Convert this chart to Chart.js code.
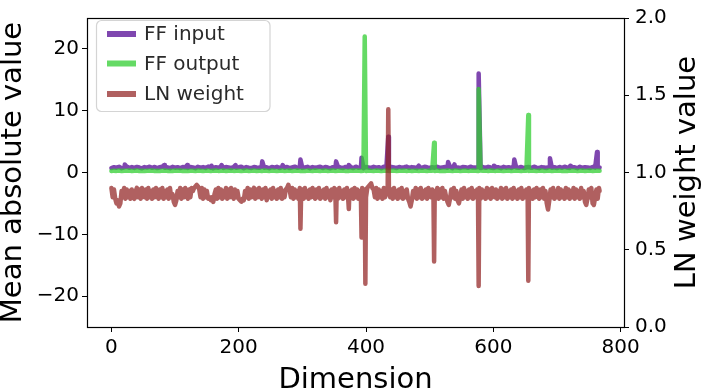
<!DOCTYPE html>
<html>
<head>
<meta charset="utf-8">
<script src="https://cdn.jsdelivr.net/npm/chart.js@4.4.1/dist/chart.umd.min.js"></script>
<style>
  body { margin: 0; background: #fff; }
  canvas { display: block; }
</style>
</head>
<body>
<canvas id="myChart" width="706" height="388"></canvas>
<script>
// x ticks / y ticks
var xTicks = [0, 200, 400, 600, 800];
var leftTicks = [-20, -10, 0, 10, 20];
var rightTicks = [0, 0.5, 1.0, 1.5, 2.0];

// FF baselines are read every 4th dimension, LN every 2nd, both plus the last one (767)
var ffDims = [];
for (var d = 0; d <= 764; d += 4) ffDims.push(d);
ffDims.push(767);
var lnDims = [];
for (var e = 0; e <= 766; e += 2) lnDims.push(e);
lnDims.push(767);

// FF input, mean absolute value
var ffInputBase = [
  0.72,0.86,0.78,0.92,0.70,0.84,0.95,0.76,0.88,0.73,0.90,0.80,0.68,0.87,0.79,0.93,
  0.75,0.89,0.71,0.85,0.94,0.77,0.83,0.69,0.91,0.78,0.86,0.72,0.88,0.81,0.74,0.90,
  0.83,0.70,0.92,0.79,0.87,0.73,0.95,0.80,0.68,0.86,0.77,0.91,0.74,0.88,0.82,0.71,
  0.89,0.76,0.84,0.93,0.70,0.87,0.79,0.72,0.90,0.81,0.75,0.94,0.78,0.85,0.69,0.88,
  0.80,0.92,0.73,0.86,0.77,0.90,0.71,0.84,0.95,0.76,0.88,0.74,0.83,0.91,0.70,0.87,
  0.78,0.85,0.93,0.72,0.89,0.80,0.68,0.86,0.76,0.92,0.81,0.73,0.90,0.79,0.87,0.71,
  0.94,0.77,0.84,0.70,0.88,0.82,0.75,0.91,0.78,0.86,0.69,0.93,0.80,0.74,0.89,0.83,
  0.72,0.90,0.79,0.85,0.95,0.73,0.87,0.81,0.70,0.88,0.76,0.92,0.84,0.71,0.86,0.78,
  0.91,0.74,0.83,0.89,0.77,0.93,0.70,0.85,0.80,0.72,0.90,0.86,0.75,0.94,0.79,0.82,
  0.88,0.71,0.87,0.76,0.92,0.81,0.73,0.89,0.84,0.69,0.91,0.78,0.86,0.74,0.95,0.80,
  0.77,0.90,0.72,0.85,0.88,0.75,0.93,0.79,0.70,0.87,0.82,0.74,0.91,0.78,0.86,0.71,
  0.89,0.76,0.94,0.80,0.73,0.88,0.84,0.70,0.92,0.77,0.85,0.81,0.72,0.90,0.79,0.87,
  0.83
];
var ffInputSpikeDims = [21, 83, 119, 157, 173, 195, 237, 269, 297, 353, 373, 393, 435, 483, 529, 539, 577, 601, 633, 689, 721, 763];
var ffInputSpikeVals = [1.3, 1.2, 1.2, 1.1, 1.2, 1.2, 1.8, 1.2, 2.1, 1.8, 1.2, 2.4, 5.8, 1.1, 1.7, 1.3, 16.0, 1.1, 2.1, 2.3, 1.1, 3.3];

// FF output, mean absolute value
var ffOutputBase = [
  0.24,0.30,0.26,0.32,0.23,0.29,0.27,0.31,0.25,0.28,0.33,0.24,0.29,0.26,0.30,0.27,
  0.31,0.25,0.28,0.23,0.30,0.32,0.26,0.29,0.24,0.31,0.27,0.33,0.25,0.28,0.26,0.30,
  0.28,0.24,0.32,0.29,0.25,0.27,0.31,0.23,0.30,0.33,0.26,0.28,0.31,0.24,0.29,0.32,
  0.26,0.30,0.28,0.24,0.29,0.32,0.23,0.27,0.31,0.25,0.30,0.24,0.33,0.28,0.26,0.31,
  0.29,0.24,0.27,0.32,0.25,0.30,0.31,0.24,0.28,0.33,0.26,0.29,0.23,0.31,0.27,0.25,
  0.32,0.28,0.24,0.30,0.31,0.26,0.27,0.33,0.24,0.29,0.28,0.31,0.25,0.23,0.30,0.32,
  0.27,0.31,0.26,0.29,0.24,0.32,0.28,0.25,0.31,0.29,0.24,0.27,0.33,0.26,0.30,0.31,
  0.24,0.29,0.28,0.32,0.25,0.31,0.23,0.27,0.30,0.26,0.32,0.28,0.24,0.31,0.29,0.25,
  0.31,0.26,0.29,0.24,0.33,0.27,0.25,0.31,0.30,0.24,0.28,0.32,0.26,0.29,0.31,0.27,
  0.25,0.32,0.28,0.30,0.24,0.31,0.27,0.26,0.33,0.29,0.24,0.28,0.31,0.25,0.30,0.32,
  0.27,0.24,0.31,0.29,0.26,0.32,0.28,0.23,0.30,0.31,0.25,0.27,0.33,0.24,0.29,0.28,
  0.31,0.26,0.29,0.24,0.32,0.27,0.31,0.25,0.30,0.33,0.24,0.28,0.31,0.26,0.29,0.27,
  0.28
];
var ffOutputSpikeDims = [398, 507, 577, 655];
var ffOutputSpikeVals = [22.0, 4.8, 13.5, 9.3];

// LN weight value (right axis), every 2nd dimension
var lnWeightBase = [
  0.90,0.84,0.89,0.83,0.80,0.82,0.78,0.80,0.88,0.84,0.90,0.83,0.89,0.84,0.88,0.83,
  0.89,0.84,0.83,0.88,0.90,0.84,0.89,0.83,0.90,0.86,0.84,0.89,0.83,0.90,0.84,0.88,
  0.83,0.89,0.84,0.90,0.86,0.83,0.89,0.84,0.90,0.83,0.88,0.84,0.89,0.83,0.90,0.84,
  0.86,0.81,0.79,0.82,0.88,0.84,0.90,0.83,0.89,0.84,0.90,0.86,0.83,0.89,0.84,0.90,
  0.88,0.90,0.91,0.92,0.91,0.89,0.84,0.90,0.83,0.89,0.84,0.88,0.83,0.84,0.82,0.84,
  0.81,0.86,0.89,0.83,0.90,0.84,0.89,0.83,0.88,0.84,0.90,0.83,0.89,0.84,0.90,0.86,
  0.83,0.89,0.84,0.88,0.83,0.82,0.81,0.83,0.82,0.88,0.84,0.90,0.83,0.89,0.84,0.88,
  0.90,0.83,0.89,0.84,0.90,0.86,0.83,0.89,0.84,0.90,0.82,0.88,0.84,0.89,0.83,0.90,
  0.84,0.88,0.83,0.89,0.84,0.90,0.83,0.88,0.84,0.89,0.90,0.92,0.89,0.84,0.90,0.83,
  0.89,0.84,0.88,0.83,0.90,0.84,0.89,0.83,0.90,0.84,0.88,0.83,0.89,0.84,0.90,0.86,
  0.83,0.89,0.84,0.90,0.83,0.88,0.84,0.89,0.83,0.90,0.84,0.88,0.82,0.89,0.84,0.90,
  0.84,0.89,0.83,0.90,0.84,0.88,0.83,0.89,0.84,0.90,0.83,0.88,0.84,0.89,0.83,0.90,
  0.84,0.89,0.83,0.88,0.84,0.90,0.83,0.89,0.84,0.90,0.91,0.92,0.93,0.90,0.89,0.84,
  0.90,0.83,0.89,0.84,0.88,0.83,0.90,0.84,0.89,0.86,0.90,0.84,0.89,0.83,0.90,0.84,
  0.88,0.83,0.89,0.84,0.90,0.83,0.88,0.84,0.89,0.83,0.81,0.78,0.82,0.88,0.84,0.90,
  0.83,0.89,0.84,0.90,0.83,0.88,0.84,0.89,0.83,0.90,0.86,0.84,0.89,0.83,0.88,0.84,
  0.90,0.83,0.89,0.84,0.90,0.83,0.88,0.84,0.81,0.79,0.83,0.89,0.84,0.90,0.83,0.88,
  0.82,0.80,0.84,0.89,0.83,0.90,0.84,0.88,0.83,0.89,0.84,0.90,0.83,0.88,0.84,0.89,
  0.84,0.90,0.83,0.89,0.84,0.88,0.83,0.90,0.84,0.89,0.83,0.90,0.86,0.84,0.89,0.83,
  0.88,0.84,0.90,0.83,0.89,0.84,0.90,0.83,0.88,0.84,0.89,0.83,0.90,0.84,0.88,0.83,
  0.89,0.84,0.90,0.83,0.88,0.84,0.89,0.83,0.90,0.84,0.88,0.83,0.89,0.84,0.90,0.86,
  0.83,0.89,0.84,0.90,0.83,0.88,0.80,0.76,0.82,0.89,0.84,0.90,0.83,0.88,0.84,0.90,
  0.83,0.89,0.84,0.88,0.83,0.90,0.84,0.89,0.83,0.88,0.84,0.90,0.83,0.89,0.84,0.88,
  0.83,0.90,0.84,0.88,0.81,0.79,0.83,0.89,0.84,0.90,0.80,0.79,0.84,0.89,0.83,0.90,
  0.88
];
var lnWeightSpikeDims = [297, 353, 373, 393, 399, 435, 507, 577, 655];
var lnWeightSpikeVals = [0.636, 0.678, 0.763, 0.58, 0.28, 1.41, 0.424, 0.265, 0.30];

var purple = 'rgba(95, 25, 155, 0.8)';
var green = 'rgba(50, 205, 50, 0.75)';
var brown = 'rgba(145, 35, 35, 0.72)';

function makePoints(dims, base, spikeDims, spikeVals) {
    var pts = [];
    for (var i = 0; i < dims.length; i++) {
        pts.push({x: dims[i], y: base[i]});
    }
    for (var j = 0; j < spikeDims.length; j++) {
        pts.push({x: spikeDims[j], y: spikeVals[j]});
    }
    pts.sort(function(a, b) { return a.x - b.x; });
    return pts;
}

function fixTicks(list) {
    return function(scale) {
        scale.ticks = list.map(function(v) { return {value: v}; });
    };
}

var FONT = 'DejaVu Sans';

var decor = {
    id: 'decor',
    afterDraw: function(chart) {
        var ctx = chart.ctx;
        var a = chart.chartArea;
        ctx.save();
        // frame
        ctx.strokeStyle = '#000';
        ctx.lineWidth = 1.2;
        ctx.strokeRect(a.left + 0.5, a.top + 0.5, a.right - a.left, a.bottom - a.top);

        // axis titles
        ctx.fillStyle = '#000';
        ctx.font = '29px "' + FONT + '"';
        ctx.textAlign = 'center';
        ctx.textBaseline = 'middle';
        var cy = (a.top + a.bottom) / 2;
        ctx.save();
        ctx.translate(13, cy);
        ctx.rotate(-Math.PI / 2);
        ctx.fillText('Mean absolute value', 0, 0);
        ctx.restore();
        ctx.save();
        ctx.translate(687, cy);
        ctx.rotate(-Math.PI / 2);
        ctx.fillText('LN weight value', 0, 0);
        ctx.restore();
        ctx.fillText('Dimension', (a.left + a.right) / 2, 380.5);

        // legend
        ctx.beginPath();
        ctx.roundRect(96.5, 20.5, 173.5, 91, 5);
        ctx.fillStyle = 'rgba(255,255,255,0.8)';
        ctx.fill();
        ctx.strokeStyle = '#d4d4d4';
        ctx.lineWidth = 1.2;
        ctx.stroke();
        var rows = [34, 63.5, 94];
        ctx.font = '20px "' + FONT + '"';
        ctx.textAlign = 'left';
        chart.data.datasets.forEach(function(ds, i) {
            ctx.beginPath();
            ctx.moveTo(107, rows[i]);
            ctx.lineTo(136, rows[i]);
            ctx.strokeStyle = ds.borderColor;
            ctx.lineWidth = 6;
            ctx.lineCap = 'butt';
            ctx.stroke();
            ctx.fillStyle = '#2a2a2a';
            ctx.fillText(ds.label, 144, rows[i] + 1);
        });
        ctx.restore();
    }
};

var ctx = document.getElementById('myChart').getContext('2d');
var chart = new Chart(ctx, {
    type: 'line',
    data: {
        datasets: [{
            label: 'FF input',
            data: makePoints(ffDims, ffInputBase, ffInputSpikeDims, ffInputSpikeVals),
            borderColor: purple,
            yAxisID: 'y',
            order: 2
        }, {
            label: 'FF output',
            data: makePoints(ffDims, ffOutputBase, ffOutputSpikeDims, ffOutputSpikeVals),
            borderColor: green,
            yAxisID: 'y',
            order: 1
        }, {
            label: 'LN weight',
            data: makePoints(lnDims, lnWeightBase, lnWeightSpikeDims, lnWeightSpikeVals),
            borderColor: brown,
            yAxisID: 'y1',
            tension: 0.001,
            order: 0
        }]
    },
    options: {
        responsive: false,
        animation: false,
        events: [],
        layout: { padding: { top: 12, left: 0, right: 0, bottom: 0 } },
        elements: {
            point: { radius: 0 },
            line: { borderWidth: 4.5, tension: 0, borderJoinStyle: 'round', borderCapStyle: 'round', fill: false }
        },
        plugins: { legend: { display: false }, tooltip: { enabled: false } },
        scales: {
            x: {
                type: 'linear',
                min: -38.35,
                max: 805.35,
                afterBuildTicks: fixTicks(xTicks),
                afterFit: function(scale) { scale.height = 61; },
                border: { display: false },
                grid: { drawOnChartArea: false, drawTicks: true, tickLength: 5, color: '#000', lineWidth: 1 },
                ticks: { color: '#000', font: { family: FONT, size: 20 }, padding: 4, maxRotation: 0 }
            },
            y: {
                position: 'left',
                min: -25,
                max: 25,
                afterBuildTicks: fixTicks(leftTicks),
                afterFit: function(scale) { scale.width = 87; },
                border: { display: false },
                grid: { drawOnChartArea: false, drawTicks: true, tickLength: 5, color: '#000', lineWidth: 1 },
                ticks: {
                    color: '#000', font: { family: FONT, size: 20 }, padding: 3,
                    callback: function(v) { return v < 0 ? '\u2212' + Math.abs(v) : String(v); }
                }
            },
            y1: {
                position: 'right',
                min: 0,
                max: 2,
                afterBuildTicks: fixTicks(rightTicks),
                afterFit: function(scale) { scale.width = 82; },
                border: { display: false },
                grid: { drawOnChartArea: false, drawTicks: true, tickLength: 5, color: '#000', lineWidth: 1 },
                ticks: {
                    color: '#000', font: { family: FONT, size: 20 }, padding: 6,
                    callback: function(v) { return Number(v).toFixed(1); }
                }
            }
        }
    },
    plugins: [decor]
});
</script>
</body>
</html>
